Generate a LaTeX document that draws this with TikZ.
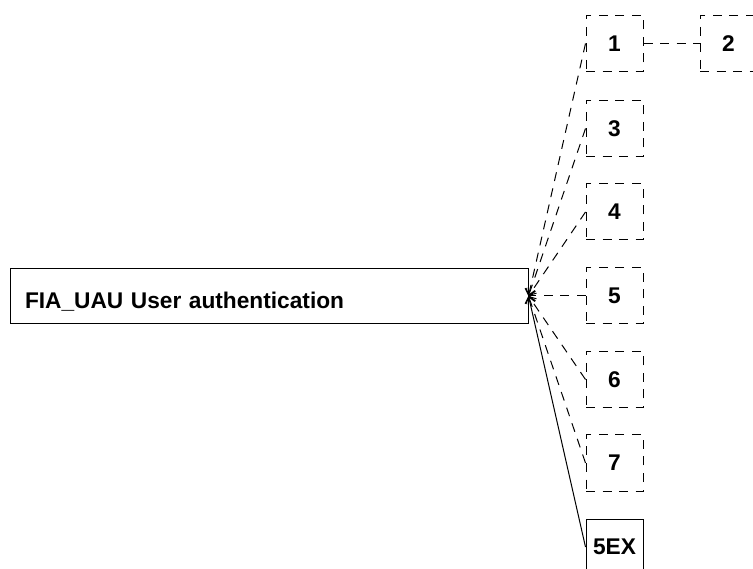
\documentclass[tikz,border=0pt]{standalone}
\usepackage{fontspec}
\setmainfont{Liberation Sans}
\usetikzlibrary{arrows.meta}
\begin{document}
\begin{tikzpicture}[x=1pt, y=-1pt, line width=1pt, font=\bfseries\fontsize{22.7}{26}\selectfont,
    famgroup/.style={draw, minimum height=55pt, inner xsep=15pt, text width=488pt, align=left, text height=25pt, text depth=0pt},
    compbox/.style={draw, minimum width=57pt, minimum height=56pt, inner sep=0pt},
    dashbox/.style={compbox, dash pattern=on 9pt off 7.5pt},
    deplink/.style={dash pattern=on 9pt off 7.5pt, -{Straight Barb[length=6pt,width=10pt]}}]
    \useasboundingbox (0, 0) rectangle (753, 569);
        \node[famgroup] (uau) at (269, 296) {FIA\_UAU User authentication};
        \node[dashbox] (c1) at (614.5, 43.5) {1};
        \node[dashbox] (c2) at (728.5, 43.5) {2};
        \node[dashbox] (c3) at (614.5, 128.5) {3};
        \node[dashbox] (c4) at (614.5, 212) {4};
        \node[dashbox] (c5) at (614.5, 296) {5};
        \node[dashbox] (c6) at (614.5, 379.5) {6};
        \node[dashbox] (c7) at (614.5, 463) {7};
        \node[compbox] (c5ex) at (614.5, 547) {5EX};
        \draw[dash pattern=on 9pt off 7.5pt] (c1.east) to (c2.west);
        \draw[deplink] (c1.west) to (uau.east);
        \draw[deplink] (c3.west) to (uau.east);
        \draw[deplink] (c4.west) to (uau.east);
        \draw[deplink] (c5.west) to (uau.east);
        \draw[deplink] (c6.west) to (uau.east);
        \draw[deplink] (c7.west) to (uau.east);
        \draw[-{Straight Barb[length=6pt,width=10pt]}] (c5ex.west) to (uau.east);
    \end{tikzpicture}
\end{document}
